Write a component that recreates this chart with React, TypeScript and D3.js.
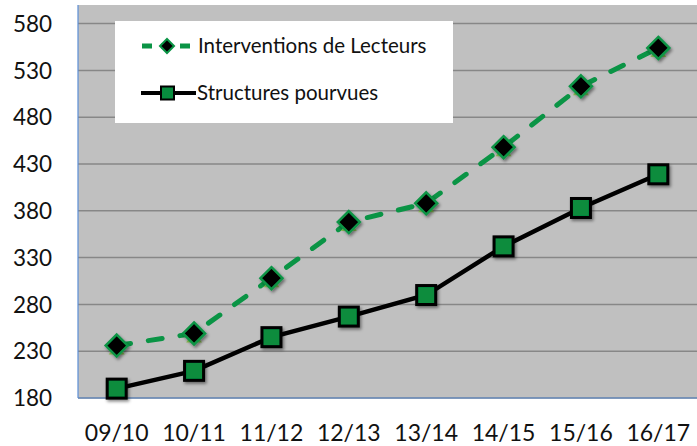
import React from "react";
import * as d3 from "d3";

const categories = ["09/10", "10/11", "11/12", "12/13", "13/14", "14/15", "15/16", "16/17"];
const interventions = [236, 249, 308, 368, 388, 448, 513, 554];
const structures = [190, 209, 245, 267, 290, 342, 383, 419];
const yTicks = [180, 230, 280, 330, 380, 430, 480, 530, 580];
const seriesNames = ["Interventions de Lecteurs", "Structures pourvues"];

const W = 697, H = 446;
const left = 78, right = 697, top = 5, bottom = 398;

export default function App() {
  const x = d3.scaleBand<string>().domain(categories).range([left, right]);
  const y = d3.scaleLinear().domain([180, 600]).range([bottom, bottom - (420 * 46.8) / 50]);
  const cx = (c: string) => (x(c) as number) + x.bandwidth() / 2;
  const line = d3.line<number>().x((_, i) => cx(categories[i])).y((d) => y(d));
  const font = "Lato, 'Open Sans', sans-serif";
  return (
    <svg width={W} height={H} style={{ position: "absolute", left: 0, top: 0 }}>
      <defs>
        <filter id="sh" x="-50%" y="-50%" width="200%" height="200%">
          <feDropShadow dx="1.5" dy="2" stdDeviation="1.5" floodColor="#000" floodOpacity="0.45" />
        </filter>
      </defs>
      <rect x={0} y={0} width={W} height={H} fill="#fff" />
      <rect x={left} y={top} width={right - left} height={bottom - top} fill="#c0c0c0" />
      {yTicks.map((t) => (
        <line key={t} x1={left} x2={right} y1={y(t)} y2={y(t)} stroke="#878787" strokeWidth={1.5} />
      ))}
      <line x1={left} x2={left} y1={top} y2={bottom} stroke="#5b8ed6" strokeWidth={1.2} />
      <line x1={left} x2={right} y1={bottom} y2={bottom} stroke="#5b8ed6" strokeWidth={1.2} />
      {yTicks.map((t) => (
        <text key={t} x={13} y={y(t)} dy="0.36em" fontSize={22.5} fontFamily={font} fill="#111">{t}</text>
      ))}
      {categories.map((c) => (
        <text key={c} x={cx(c)} y={441} textAnchor="middle" fontSize={23} fontFamily={font} fill="#111">{c}</text>
      ))}
      <path d={line(interventions) || ""} fill="none" stroke="#0a9445" strokeWidth={5} strokeDasharray="14 18" strokeLinecap="round" />
      <path d={line(structures) || ""} fill="none" stroke="#000" strokeWidth={4.5} />
      {interventions.map((v, i) => {
        const px = cx(categories[i]), py = y(v);
        return (
          <g key={i}>
            <path d={`M${px - 8},${py + 9}L${px + 8},${py + 9}L${px},${py - 2}Z`} fill="#8fc656" />
            <path d={`M${px},${py - 11}L${px + 11},${py}L${px},${py + 11}L${px - 11},${py}Z`} fill="#000" stroke="#0a9445" strokeWidth={2.5} filter="url(#sh)" />
          </g>
        );
      })}
      {structures.map((v, i) => {
        const px = cx(categories[i]), py = y(v);
        return <rect key={i} x={px - 9.5} y={py - 9.5} width={19} height={19} fill="#078c3e" stroke="#000" strokeWidth={3} filter="url(#sh)" />;
      })}
      <rect x={115} y={21} width={338} height={102} fill="#fff" />
      <line x1={142} x2={192} y1={46} y2={46} stroke="#0a9445" strokeWidth={5} strokeDasharray="10 9" />
      <path d="M167,39L174,46L167,53L160,46Z" fill="#000" stroke="#0a9445" strokeWidth={2} />
      <text x={198} y={46} dy="0.36em" fontSize={20.5} fontFamily={font} fill="#111">{seriesNames[0]}</text>
      <line x1={141} x2={196} y1={93} y2={93} stroke="#000" strokeWidth={4} />
      <rect x={161} y={86.5} width={13} height={13} fill="#078c3e" stroke="#000" strokeWidth={2} />
      <text x={197} y={93} dy="0.36em" fontSize={20.5} fontFamily={font} fill="#111">{seriesNames[1]}</text>
    </svg>
  );
}
